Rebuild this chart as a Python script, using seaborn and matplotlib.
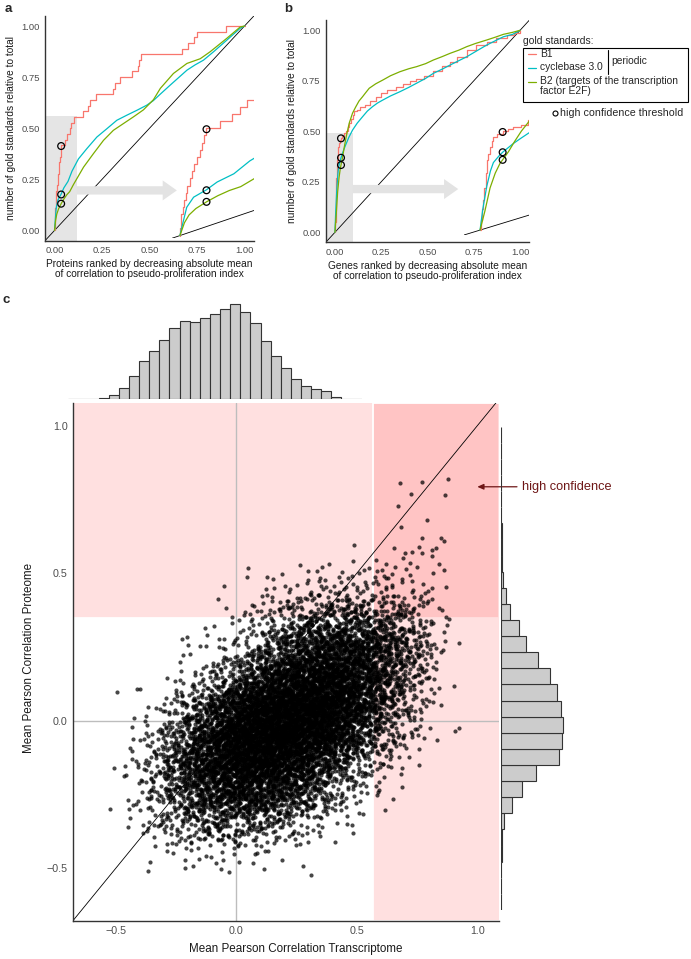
import numpy as np
import pandas as pd
import matplotlib
matplotlib.use("Agg")  # no display
import matplotlib.pyplot as plt
import seaborn as sns
from matplotlib.lines import Line2D
from matplotlib.patches import Rectangle

W, H = 691, 959  # figure size in pixels (dpi 100)

RED, CYAN, GREEN = "#F8766D", "#00BFC4", "#7CAE00"
TICK_GREY = "#4D4D4D"
AXIS_GREY = "#333333"

# ---------------- panel a (proteins) ----------------
a_b1_x = [0, 0.0005, 0.001, 0.002, 0.004, 0.006, 0.008, 0.010, 0.013, 0.016, 0.018, 0.022, 0.026,
          0.029, 0.032, 0.035, 0.053, 0.068, 0.079, 0.088, 0.105, 0.150, 0.175, 0.188, 0.219,
          0.310, 0.320, 0.345, 0.407, 0.440, 0.447, 0.455, 0.670, 0.700, 0.732, 0.749, 0.900, 1.0]
a_b1_y = [0, 0.028, 0.056, 0.083, 0.111, 0.139, 0.167, 0.194, 0.222, 0.250, 0.278, 0.306, 0.333,
          0.361, 0.389, 0.417, 0.444, 0.472, 0.500, 0.528, 0.556, 0.583, 0.611, 0.639, 0.667,
          0.694, 0.722, 0.750, 0.778, 0.806, 0.833, 0.861, 0.889, 0.917, 0.944, 0.972, 1.0, 1.0]
a_cb_x = [0, 0.004, 0.009, 0.018, 0.035, 0.049, 0.071, 0.092, 0.126, 0.170, 0.223, 0.276, 0.328,
          0.381, 0.434, 0.486, 0.520, 0.557, 0.609, 0.650, 0.697, 0.740, 0.784, 0.837, 0.907, 0.977, 1.0]
a_cb_y = [0, 0.050, 0.110, 0.149, 0.178, 0.208, 0.240, 0.290, 0.350, 0.400, 0.457, 0.498, 0.539,
          0.564, 0.588, 0.613, 0.635, 0.667, 0.711, 0.745, 0.784, 0.810, 0.833, 0.874, 0.931, 0.989, 1.0]
a_b2_x = [0, 0.006, 0.012, 0.021, 0.035, 0.050, 0.065, 0.080, 0.100, 0.153, 0.205, 0.258, 0.310,
          0.363, 0.416, 0.468, 0.500, 0.521, 0.557, 0.626, 0.697, 0.767, 0.819, 0.907, 0.977, 1.0]
a_b2_y = [0, 0.050, 0.080, 0.105, 0.131, 0.155, 0.175, 0.190, 0.225, 0.310, 0.376, 0.441, 0.490,
          0.523, 0.556, 0.590, 0.620, 0.640, 0.695, 0.768, 0.817, 0.840, 0.874, 0.940, 0.995, 1.0]
a_thr_x = 0.035
a_thr_y = [0.413, 0.176, 0.131]

# ---------------- panel b (genes) ----------------
b_b1_x = [0, 0.002, 0.003, 0.0048, 0.006, 0.008, 0.0096, 0.012, 0.0145, 0.017, 0.0193, 0.025,
          0.0327, 0.040, 0.048, 0.060, 0.070, 0.077, 0.085, 0.095, 0.105, 0.120, 0.135, 0.160,
          0.190, 0.220, 0.250, 0.280, 0.330, 0.370, 0.405, 0.440, 0.480, 0.532, 0.580, 0.622,
          0.660, 0.712, 0.760, 0.820, 0.870, 0.930, 0.970, 1.0]
b_b1_y = [0, 0.050, 0.100, 0.143, 0.200, 0.270, 0.332, 0.360, 0.395, 0.420, 0.442, 0.455,
          0.469, 0.478, 0.490, 0.500, 0.520, 0.540, 0.560, 0.580, 0.600, 0.605, 0.620, 0.630,
          0.650, 0.670, 0.690, 0.704, 0.720, 0.735, 0.748, 0.760, 0.775, 0.800, 0.825, 0.845,
          0.870, 0.902, 0.925, 0.944, 0.960, 0.975, 0.985, 1.0]
b_cb_x = [0, 0.004, 0.0096, 0.015, 0.0193, 0.027, 0.0327, 0.048, 0.059, 0.075, 0.095, 0.120,
          0.149, 0.175, 0.203, 0.230, 0.259, 0.300, 0.351, 0.400, 0.441, 0.490, 0.532, 0.580,
          0.622, 0.670, 0.712, 0.760, 0.820, 0.870, 0.910, 0.960, 1.0]
b_cb_y = [0, 0.100, 0.206, 0.280, 0.320, 0.350, 0.369, 0.410, 0.435, 0.470, 0.506, 0.540,
          0.572, 0.600, 0.622, 0.640, 0.655, 0.675, 0.696, 0.718, 0.738, 0.762, 0.787, 0.808,
          0.828, 0.850, 0.869, 0.895, 0.927, 0.950, 0.968, 0.980, 1.0]
b_b2_x = [0, 0.007, 0.0145, 0.022, 0.029, 0.0327, 0.041, 0.050, 0.060, 0.077, 0.095, 0.113,
          0.130, 0.149, 0.165, 0.185, 0.220, 0.259, 0.300, 0.351, 0.400, 0.441, 0.490, 0.532,
          0.580, 0.622, 0.670, 0.712, 0.760, 0.820, 0.870, 0.910, 0.960, 1.0]
b_b2_y = [0, 0.090, 0.200, 0.270, 0.317, 0.333, 0.371, 0.420, 0.470, 0.540, 0.590, 0.622,
          0.650, 0.671, 0.690, 0.713, 0.735, 0.754, 0.775, 0.795, 0.810, 0.820, 0.835, 0.853,
          0.870, 0.886, 0.902, 0.919, 0.935, 0.952, 0.967, 0.980, 0.990, 1.0]
b_thr_x = 0.0327
b_thr_y = [0.465, 0.369, 0.333]

rank_ticks = [0, 0.25, 0.5, 0.75, 1.0]
rank_ticklabels = ["0.00", "0.25", "0.50", "0.75", "1.00"]

legend_labels = ["B1", "cyclebase 3.0", "B2 (targets of the transcription\nfactor E2F)"]

# ---------------- panel c (scatter + marginals) ----------------
grid_x = [-0.45, -0.35, -0.25, -0.15, -0.05, 0.05, 0.15, 0.25, 0.35, 0.45, 0.55, 0.65, 0.75, 0.85]
grid_y = [-0.45, -0.35, -0.25, -0.15, -0.05, 0.05, 0.15, 0.25, 0.35, 0.45]
# estimated number of genes per 0.1 x 0.1 cell (rows = grid_y, columns = grid_x)
grid_counts = [
    [0, 2, 5, 7, 8, 7, 4, 2, 1, 0, 0, 0, 0, 0],
    [3, 15, 32, 52, 60, 55, 40, 24, 11, 4, 1, 0, 0, 0],
    [4, 25, 62, 118, 158, 168, 148, 108, 58, 24, 8, 2, 0, 0],
    [5, 30, 88, 170, 245, 285, 275, 215, 135, 70, 28, 9, 2, 0],
    [2, 16, 56, 138, 248, 338, 368, 348, 278, 178, 88, 34, 10, 2],
    [1, 6, 26, 72, 158, 258, 328, 348, 318, 248, 148, 64, 20, 3],
    [0, 1, 4, 14, 42, 100, 180, 240, 265, 245, 175, 90, 32, 5],
    [0, 0, 2, 5, 12, 30, 70, 125, 165, 180, 160, 110, 50, 7],
    [0, 0, 0, 1, 4, 10, 24, 45, 65, 75, 70, 55, 32, 6],
    [0, 0, 0, 0, 1, 3, 7, 11, 15, 18, 18, 16, 12, 3],
]
# individually readable genes above 0.5 proteome correlation
top_genes_x = [0.680, 0.772, 0.880, 0.725, 0.866, 0.672, 0.790, 0.682, 0.770, 0.850, 0.860, 0.656,
               0.760, 0.490, 0.700, 0.730, 0.770, 0.810, 0.830, 0.810, 0.603, 0.720, 0.483, 0.354,
               0.816, 0.530, 0.620, 0.660, 0.580, 0.750, 0.840, 0.690]
top_genes_y = [0.805, 0.810, 0.818, 0.770, 0.765, 0.727, 0.680, 0.656, 0.620, 0.620, 0.610, 0.586,
               0.588, 0.596, 0.567, 0.573, 0.567, 0.580, 0.585, 0.560, 0.510, 0.535, 0.540, 0.520,
               0.500, 0.510, 0.530, 0.520, 0.545, 0.520, 0.530, 0.550]

# marginal histograms (bar heights)
transcriptome_counts = [0, 0, 0, 4, 14, 47, 96, 160, 206, 254, 302, 332, 328, 345, 362, 387, 405,
                        374, 324, 249, 182, 133, 83, 56, 42, 31, 6, 0, 0]
proteome_counts = [0, 0, 3, 7, 12, 26, 82, 152, 252, 420, 441, 448, 434, 410, 355, 268, 180, 131,
                   65, 37, 16, 12, 7, 7, 4, 4, 3, 3, 0, 0]

corr_ticks = [-0.5, 0.0, 0.5, 1.0]
corr_ticklabels = ["\u22120.5", "0.0", "0.5", "1.0"]

HC_X, HC_Y = 0.568, 0.347  # high confidence thresholds


def px_axes(fig, left, top, right, bottom):
    return fig.add_axes([left / W, 1 - bottom / H, (right - left) / W, (bottom - top) / H])


def fig_text(fig, x, y, s, **kw):
    fig.text(x / W, 1 - y / H, s, **kw)


def fig_line(fig, x0, x1, y0, y1, **kw):
    fig.add_artist(Line2D([x0 / W, x1 / W], [1 - y0 / H, 1 - y1 / H],
                          transform=fig.transFigure, **kw))


def style_axes(ax, size):
    sns.despine(ax=ax)
    for side in ("left", "bottom"):
        ax.spines[side].set_color(AXIS_GREY)
        ax.spines[side].set_linewidth(1.0)
    ax.tick_params(length=2.5, width=0.8, color=AXIS_GREY, labelsize=size,
                   labelcolor=TICK_GREY, pad=1.2)


def bare(ax):
    # no ticks, labels or frame at all
    ax.set(xticks=[], yticks=[], xlabel="", ylabel="")
    ax.axis("off")


def halton(n, base):
    # evenly spread layout positions inside a cell
    seq = np.empty(n)
    for i in range(n):
        f, r, k = 1.0, 0.0, i + 1
        while k > 0:
            f /= base
            r += f * (k % base)
            k //= base
        seq[i] = r
    return seq


def draw_curves(ax, curves, thr_x, thr_y):
    for xs, ys, col, step in curves:
        sns.lineplot(x=xs, y=ys, color=col, lw=0.9, estimator=None, sort=False,
                     drawstyle="steps-post" if step else "default", ax=ax, legend=False)
    ax.scatter([thr_x] * len(thr_y), thr_y, s=24, facecolors="none", edgecolors="black",
               linewidths=0.9, zorder=5)


def rank_panel(ax, curves, thr_x, thr_y, box, arrow, inset_bounds, inset_lim, xlabel):
    ax.add_patch(Rectangle((-0.05, -0.05), box[0] + 0.05, box[1] + 0.05,
                           facecolor="#E5E5E5", edgecolor="none", zorder=0))
    ax.plot([-0.05, 1.05], [-0.05, 1.05], color="black", lw=0.6, zorder=1)
    ax.annotate("", xy=(arrow[1], arrow[2]), xytext=(arrow[0], arrow[2]),
                arrowprops=dict(arrowstyle="simple,head_length=0.85,head_width=1.2,tail_width=0.5",
                                color="#E3E3E3", lw=0, shrinkA=0, shrinkB=0))
    draw_curves(ax, curves, thr_x, thr_y)
    ax.set_xlim(-0.05, 1.05)
    ax.set_ylim(-0.05, 1.05)
    ax.set_xticks(rank_ticks, rank_ticklabels)
    ax.set_yticks(rank_ticks, rank_ticklabels)
    style_axes(ax, 6.8)
    ax.set_xlabel(xlabel, fontsize=7.3, linespacing=1.0, color="#1A1A1A")
    ax.set_ylabel("number of gold standards relative to total", fontsize=7.3, color="#1A1A1A")
    ax.xaxis.set_label_coords(0.5, -0.082)
    ax.yaxis.set_label_coords(-0.14, 0.5)

    # zoomed view of the grey box
    ins = ax.inset_axes(inset_bounds, transform=ax.transData)
    lo, hi, ytop = inset_lim
    ins.plot([lo, hi], [lo, hi], color="black", lw=0.6)
    draw_curves(ins, curves, thr_x, thr_y)
    ins.set_xlim(lo, hi)
    ins.set_ylim(lo, ytop)
    bare(ins)
    ins.patch.set_alpha(0)


sns.set_theme(style="white")
plt.rcParams["font.family"] = ["Liberation Sans", "DejaVu Sans"]

fig = plt.figure(figsize=(W / 100, H / 100), dpi=100)

# ---- panel a ----
ax_a = px_axes(fig, 45, 15.8, 254, 240.7)
rank_panel(ax_a,
           [(a_b1_x, a_b1_y, RED, True), (a_cb_x, a_cb_y, CYAN, False), (a_b2_x, a_b2_y, GREEN, False)],
           a_thr_x, a_thr_y, box=(0.118, 0.56), arrow=(0.118, 0.644, 0.196),
           inset_bounds=[0.618, -0.0382, 0.432, 0.769], inset_lim=(-0.0105, 0.0975, 0.6),
           xlabel="Proteins ranked by decreasing absolute mean\nof correlation to pseudo-proliferation index")

# ---- panel b ----
ax_b = px_axes(fig, 325.7, 20.2, 529.3, 242.4)
rank_panel(ax_b,
           [(b_b1_x, b_b1_y, RED, True), (b_cb_x, b_cb_y, CYAN, False), (b_b2_x, b_b2_y, GREEN, False)],
           b_thr_x, b_thr_y, box=(0.095, 0.49), arrow=(0.095, 0.666, 0.214),
           inset_bounds=[0.697, -0.0134, 0.353, 0.651], inset_lim=(-0.0233, 0.0713, 0.6),
           xlabel="Genes ranked by decreasing absolute mean\nof correlation to pseudo-proliferation index")

# ---- legend for a/b ----
LEG = 7.4
fig_text(fig, 523, 41, "gold standards:", fontsize=LEG, va="center", ha="left")
fig.add_artist(Rectangle((523.3 / W, 1 - 101.7 / H), (687.7 - 523.3) / W, (101.7 - 48.3) / H,
                         transform=fig.transFigure, facecolor="white", edgecolor="black", lw=0.8))
for label, col, y in zip(legend_labels, [RED, CYAN, GREEN], [54, 67.5, 81.5]):
    fig_line(fig, 528, 536, y, y, color=col, lw=0.9)
    fig_text(fig, 540, y - 5, label, fontsize=LEG, va="top", ha="left", linespacing=0.92)
fig_line(fig, 607.7, 607.7, 50, 74, color="black", lw=0.8)
fig_text(fig, 611, 61.5, "periodic", fontsize=LEG, va="center", ha="left")
fig.add_artist(Line2D([555 / W], [1 - 113.3 / H], transform=fig.transFigure, marker="o",
                      markersize=3.6, markerfacecolor="none", markeredgecolor="black",
                      markeredgewidth=0.8, linestyle="none"))
fig_text(fig, 560, 113.3, "high confidence threshold", fontsize=LEG + 0.3, va="center", ha="left")

# ---- panel c scatter ----
# genes of each cell are laid out evenly with a tent profile so neighbouring cells blend
cells_x, cells_y, cells_n = [], [], []
for gy, row in zip(grid_y, grid_counts):
    for gx, n in zip(grid_x, row):
        cells_x.append(gx)
        cells_y.append(gy)
        cells_n.append(n)
total = int(sum(cells_n))
h2, h3, h5, h7 = (halton(total, b) for b in (2, 3, 5, 7))
pts_x, pts_y, pos = [], [], 0
for gx, gy, n in zip(cells_x, cells_y, cells_n):
    sl = slice(pos, pos + n)
    pts_x.extend(gx + (h2[sl] + h3[sl] - 1) * 0.09)
    pts_y.extend(gy + (h5[sl] + h7[sl] - 1) * 0.09)
    pos += n
pts_x.extend(top_genes_x)
pts_y.extend(top_genes_y)
genes = pd.DataFrame({"transcriptome": pts_x, "proteome": pts_y})

ax_c = px_axes(fig, 72.7, 403, 499, 920.7)
ax_c.axhspan(HC_Y, 3, facecolor=(1, 0, 0, 0.12), edgecolor="white", lw=1.3, zorder=0)
ax_c.axvspan(HC_X, 3, facecolor=(1, 0, 0, 0.12), edgecolor="white", lw=1.3, zorder=0)
ax_c.axvline(0, color="#BDBDBD", lw=1.0, zorder=1)
ax_c.axhline(0, color="#BDBDBD", lw=1.0, zorder=1)
ax_c.plot([-0.68, 1.09], [-0.68, 1.09], color="black", lw=0.6, zorder=1.5)
sns.scatterplot(data=genes, x="transcriptome", y="proteome", s=9, color="black", alpha=0.72,
                linewidth=0, ax=ax_c, zorder=2)
ax_c.set_xlim(-0.679, 1.09)
ax_c.set_ylim(-0.678, 1.077)
ax_c.set_xticks(corr_ticks, corr_ticklabels)
ax_c.set_yticks(corr_ticks, corr_ticklabels)
style_axes(ax_c, 7.7)
ax_c.set_xlabel("Mean Pearson Correlation Transcriptome", fontsize=8.4, color="#1A1A1A")
ax_c.set_ylabel("Mean Pearson Correlation Proteome", fontsize=8.4, color="#1A1A1A")
ax_c.xaxis.set_label_coords(0.523, -0.043)
ax_c.yaxis.set_label_coords(-0.088, 0.508)
ax_c.annotate("high confidence", xy=(1.0, 0.793), xytext=(1.184, 0.793), ha="left", va="center",
              color="#6E1616", fontsize=9.2, annotation_clip=False,
              arrowprops=dict(arrowstyle="-|>,head_length=0.4,head_width=0.18", color="#6E1616",
                              lw=0.9, shrinkA=1, shrinkB=0))

# ---- marginal histograms ----
top_edges = np.linspace(-0.6, 0.98, len(transcriptome_counts) + 1)
top_hist = pd.DataFrame({"center": (top_edges[:-1] + top_edges[1:]) / 2,
                         "count": transcriptome_counts})
ax_top = px_axes(fig, 68.3, 295, 361.7, 398.7)
sns.histplot(data=top_hist, x="center", weights="count", bins=list(top_edges), color="#CCCCCC",
             edgecolor=AXIS_GREY, linewidth=0.8, alpha=1, ax=ax_top)
ax_top.set_xlim(top_edges[0], top_edges[-1])
ax_top.set_ylim(0, max(transcriptome_counts) * (398.7 - 295) / 94.3)
bare(ax_top)

right_edges = np.linspace(-0.64, 0.955, len(proteome_counts) + 1)
right_hist = pd.DataFrame({"center": (right_edges[:-1] + right_edges[1:]) / 2,
                           "count": proteome_counts})
ax_right = px_axes(fig, 500.7, 426.7, 570, 910)
sns.histplot(data=right_hist, y="center", weights="count", bins=list(right_edges), color="#CCCCCC",
             edgecolor=AXIS_GREY, linewidth=0.8, alpha=1, ax=ax_right)
ax_right.set_ylim(right_edges[0], right_edges[-1])
ax_right.set_xlim(0, max(proteome_counts) * (570 - 500.7) / 62)
bare(ax_right)

# ---- panel letters ----
for letter, x, y in [("a", 8, 9), ("b", 288, 9), ("c", 6, 300)]:
    fig_text(fig, x, y, letter, fontsize=9.5, fontweight="bold", va="center", ha="center")

fig.savefig("out.png", dpi=100)
